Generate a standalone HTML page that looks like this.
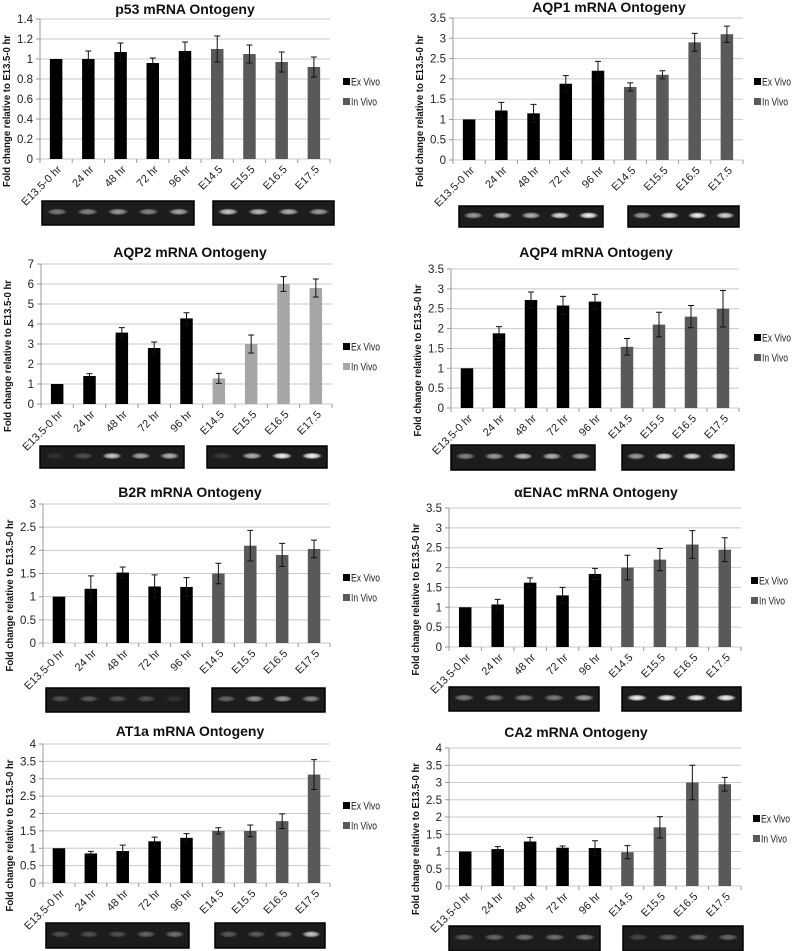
<!DOCTYPE html>
<html><head><meta charset="utf-8"><style>
html,body{margin:0;padding:0;background:#fff;}
svg{display:block;font-family:"Liberation Sans",Arial,sans-serif;}
</style></head><body>
<svg id="fig" width="792" height="951" viewBox="0 0 792 951" xmlns="http://www.w3.org/2000/svg"></svg>
<script>
const categories = ["E13.5-0 hr","24 hr","48 hr","72 hr","96 hr","E14.5","E15.5","E16.5","E17.5"];
const seriesGroup = [0,0,0,0,0,1,1,1,1];
const legendLabels = ["Ex Vivo","In Vivo"];

const p53Values = [1,1,1.07,0.96,1.08,1.10,1.05,0.97,0.92];
const p53Errors = [0,0.08,0.09,0.05,0.09,0.13,0.09,0.10,0.10];
const aqp1Values = [1,1.22,1.15,1.88,2.2,1.8,2.1,2.9,3.1];
const aqp1Errors = [0,0.2,0.22,0.2,0.23,0.1,0.1,0.22,0.2];
const aqp2Values = [1,1.4,3.57,2.8,4.28,1.28,3.0,6.0,5.8];
const aqp2Errors = [0,0.12,0.25,0.3,0.28,0.25,0.45,0.37,0.45];
const aqp4Values = [1,1.88,2.72,2.58,2.68,1.54,2.1,2.3,2.5];
const aqp4Errors = [0,0.17,0.2,0.23,0.18,0.21,0.31,0.28,0.46];
const b2rValues = [1,1.17,1.52,1.22,1.21,1.5,2.1,1.9,2.03];
const b2rErrors = [0,0.28,0.12,0.25,0.2,0.22,0.33,0.25,0.19];
const enacValues = [1,1.07,1.62,1.3,1.84,2.0,2.2,2.58,2.45];
const enacErrors = [0,0.13,0.12,0.2,0.14,0.31,0.28,0.35,0.3];
const at1aValues = [1,0.85,0.92,1.2,1.3,1.5,1.5,1.78,3.12];
const at1aErrors = [0,0.06,0.17,0.12,0.12,0.09,0.17,0.21,0.43];
const ca2Values = [1,1.07,1.29,1.11,1.1,0.98,1.7,3.0,2.95];
const ca2Errors = [0,0.07,0.12,0.05,0.21,0.19,0.31,0.5,0.2];

const p53Ticks = ["0","0.2","0.4","0.6","0.8","1","1.2","1.4"];
const halfTo35 = ["0","0.5","1","1.5","2","2.5","3","3.5"];
const halfTo3 = ["0","0.5","1","1.5","2","2.5","3"];
const halfTo4 = ["0","0.5","1","1.5","2","2.5","3","3.5","4"];
const aqp2Ticks = ["0","1","2","3","4","5","6","7"];

const p53Bands = [0.45,0.5,0.6,0.5,0.65, 0.8,0.75,0.7,0.6];
const aqp1Bands = [0.6,0.75,0.7,0.9,1.0, 0.6,0.9,1.0,0.85];
const aqp2Bands = [0.1,0.25,0.8,0.65,0.7, 0.15,0.7,1.0,1.0];
const aqp4Bands = [0.5,0.6,0.75,0.7,0.65, 0.6,0.9,0.9,0.9];
const b2rBands = [0.25,0.3,0.25,0.25,0.1, 0.35,0.55,0.6,0.5];
const enacBands = [0.45,0.45,0.45,0.45,0.6, 1.0,1.0,1.0,1.0];
const at1aBands = [0.25,0.25,0.25,0.35,0.4, 0.3,0.3,0.4,0.8];
const ca2Bands = [0.3,0.35,0.4,0.4,0.4, 0.2,0.3,0.35,0.35];

const panels = [
 {id:"p53",title:"p53 mRNA Ontogeny",vals:p53Values,errs:p53Errors,ticks:p53Ticks,bands:p53Bands,x0:40,x1:330,y0:159,y1:19,tx:185,ty:14,lx:343,ly:82,inv:"#595959",gy:[201,225],gl:[42,194],gr:[213,334]},
 {id:"aqp1",title:"AQP1 mRNA Ontogeny",vals:aqp1Values,errs:aqp1Errors,ticks:halfTo35,bands:aqp1Bands,x0:453,x1:743,y0:160,y1:18,tx:609,ty:12,lx:754,ly:82,inv:"#595959",gy:[206,227],gl:[459,603],gr:[628,739]},
 {id:"aqp2",title:"AQP2 mRNA Ontogeny",vals:aqp2Values,errs:aqp2Errors,ticks:aqp2Ticks,bands:aqp2Bands,x0:41,x1:332,y0:404,y1:264,tx:190,ty:257,lx:343,ly:347,inv:"#a6a6a6",gy:[446,468],gl:[40,184],gr:[207,327]},
 {id:"aqp4",title:"AQP4 mRNA Ontogeny",vals:aqp4Values,errs:aqp4Errors,ticks:halfTo35,bands:aqp4Bands,x0:451,x1:739,y0:408,y1:269,tx:596,ty:257,lx:754,ly:338,inv:"#595959",gy:[445,470],gl:[451,595],gr:[622,734]},
 {id:"b2r",title:"B2R mRNA Ontogeny",vals:b2rValues,errs:b2rErrors,ticks:halfTo3,bands:b2rBands,x0:43,x1:330,y0:643,y1:504,tx:190,ty:497,lx:343,ly:578,inv:"#595959",gy:[688,712],gl:[46,189],gr:[212,325]},
 {id:"enac",title:"\u03B1ENAC mRNA Ontogeny",vals:enacValues,errs:enacErrors,ticks:halfTo35,bands:enacBands,x0:449,x1:741,y0:647,y1:508,tx:596,ty:497,lx:751,ly:581,inv:"#595959",gy:[687,711],gl:[449,599],gr:[622,741]},
 {id:"at1a",title:"AT1a mRNA Ontogeny",vals:at1aValues,errs:at1aErrors,ticks:halfTo4,bands:at1aBands,x0:43,x1:330,y0:883,y1:744,tx:190,ty:736,lx:343,ly:806,inv:"#595959",gy:[923,948],gl:[46,189],gr:[215,325]},
 {id:"ca2",title:"CA2 mRNA Ontogeny",vals:ca2Values,errs:ca2Errors,ticks:halfTo4,bands:ca2Bands,x0:449,x1:741,y0:886,y1:748,tx:576,ty:737,lx:753,ly:819,inv:"#595959",gy:[926,951],gl:[449,600],gr:[623,743]}
];

const NS="http://www.w3.org/2000/svg";
const svg=document.getElementById("fig");
function mk(tag,attrs,parent){const e=document.createElementNS(NS,tag);for(const k in attrs)e.setAttribute(k,attrs[k]);(parent||svg).appendChild(e);return e;}

const defs=mk("defs",{});
const grad=mk("radialGradient",{id:"band",cx:"50%",cy:"50%",r:"50%"},defs);
mk("stop",{offset:"0%","stop-color":"#fff","stop-opacity":"1"},grad);
mk("stop",{offset:"60%","stop-color":"#ddd","stop-opacity":"0.8"},grad);
mk("stop",{offset:"100%","stop-color":"#888","stop-opacity":"0"},grad);

panels.forEach(p=>{
  const g=mk("g",{});
  
  
  const maxV=parseFloat(p.ticks[p.ticks.length-1]);
  const yS=v=>p.y0-(v/maxV)*(p.y0-p.y1);
  const slot=(p.x1-p.x0)/categories.length;
  const xS=i=>p.x0+slot*(i+0.5);
  const t=mk("text",{x:p.tx,y:p.ty,"text-anchor":"middle","font-size":"14","font-weight":"bold",fill:"#111"},g);
  t.textContent=p.title;
  
  
  p.ticks.forEach(tk=>{
    const v=parseFloat(tk),y=yS(v);
    const gl=mk("line",{x1:p.x0,x2:p.x1,y1:y,y2:y,stroke:"#c8c8c8","stroke-width":"1"},g);
    
    
    mk("line",{x1:p.x0-4,x2:p.x0,y1:y,y2:y,stroke:"#999"},g);
    const tl=mk("text",{x:p.x0-7,y:y+4,"text-anchor":"end","font-size":"11.5",fill:"#222"},g);
    tl.textContent=tk;
    
    
  });
  mk("line",{x1:p.x0,x2:p.x0,y1:p.y1,y2:p.y0,stroke:"#999"},g);
  for(let i=0;i<=categories.length;i++){const x=p.x0+slot*i;mk("line",{x1:x,x2:x,y1:p.y0,y2:p.y0+4,stroke:"#999"},g);}
  const yt=mk("text",{x:0,y:0,"text-anchor":"middle","font-size":"10","font-weight":"bold",fill:"#111",textLength:"152",lengthAdjust:"spacingAndGlyphs",transform:`translate(${p.x0-30},${(p.y0+p.y1)/2+22}) rotate(-90)`},g);
  yt.textContent="Fold change relative to E13.5-0 hr";
  
  
  categories.forEach((c,i)=>{
    const v=p.vals[i],e=p.errs[i],x=xS(i),col=seriesGroup[i]?p.inv:"#000";
    const bw=12.5;
    const b=mk("rect",{x:x-bw/2,y:yS(v),width:bw,height:p.y0-yS(v),fill:col},g);
    
    
    if(e>0){
      const eb=mk("path",{d:`M${x},${yS(v+e)}V${yS(v-e)}M${x-3},${yS(v+e)}H${x+3}M${x-3},${yS(v-e)}H${x+3}`,stroke:"#111","stroke-width":"1",fill:"none"},g);
      
      
    }
    const xl=mk("text",{x:0,y:0,"text-anchor":"end","font-size":"11",fill:"#222",transform:`translate(${x+6},${p.y0+11}) rotate(-45)`},g);
    xl.textContent=c;
    
    
  });
  legendLabels.forEach((l,k)=>{
    const ly=p.ly+k*20;
    const sw=mk("rect",{x:p.lx,y:ly-4,width:7,height:7,fill:k?p.inv:"#000"},g);
    
    
    const lt=mk("text",{x:p.lx+8,y:ly+3.5,"font-size":"11",fill:"#222",textLength:k?"26":"29",lengthAdjust:"spacingAndGlyphs"},g);
    lt.textContent=l;
    
    
  });
  [[p.gl,0,5],[p.gr,5,9]].forEach(([r,a,b],side)=>{
    const box=mk("rect",{x:r[0],y:p.gy[0],width:r[1]-r[0],height:p.gy[1]-p.gy[0],fill:"#1c1c1c",stroke:"#000","stroke-width":"1.5"},g);
    
    
    const n=b-a,w=(r[1]-r[0])/n,cy=p.gy[0]+(p.gy[1]-p.gy[0])*0.45;
    for(let j=0;j<n;j++){
      const br=p.bands[a+j];
      const band=mk("ellipse",{cx:r[0]+w*(j+0.5),cy:cy,rx:w*0.36,ry:3.5,fill:"url(#band)",opacity:br},g);
      
      
    }
  });
});
</script>
</body></html>
